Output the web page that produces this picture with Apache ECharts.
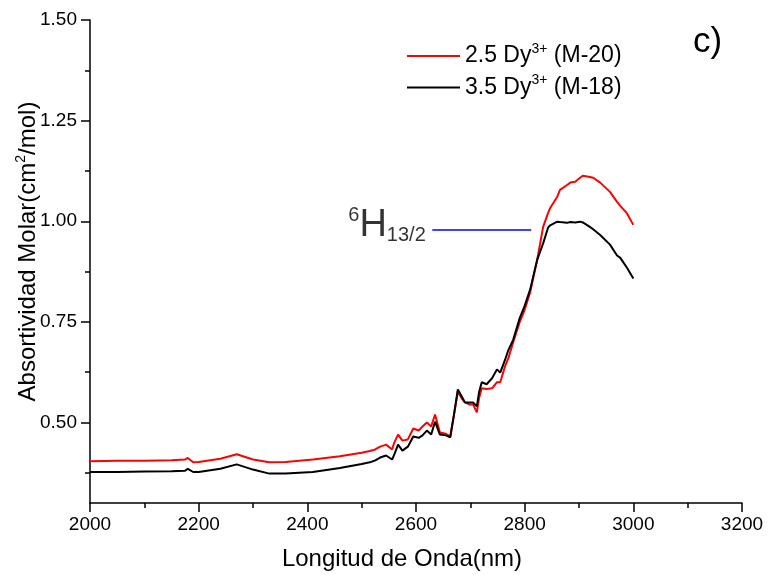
<!DOCTYPE html>
<html>
<head>
<meta charset="utf-8">
<script src="https://cdn.jsdelivr.net/npm/echarts@6/dist/echarts.min.js"></script>
<style>
  html, body { margin: 0; padding: 0; background: #fff; }
  #main { width: 768px; height: 575px; }
</style>
</head>
<body>
<div id="main"></div>
<script>
// longitud de onda (nm)
const wavelengths = [2000, 2050, 2100, 2150, 2175, 2180, 2190, 2200, 2240, 2270, 2300, 2330, 2360, 2410, 2460, 2500,
  2515, 2525, 2534, 2545, 2556, 2560, 2567, 2575, 2585, 2595, 2605, 2612, 2620, 2628, 2635, 2644, 2655, 2663,
  2670, 2677, 2684, 2690, 2698, 2705, 2712, 2716, 2721, 2730, 2740, 2749, 2755, 2764, 2770, 2779, 2791, 2800,
  2810, 2823, 2834, 2843, 2847, 2860, 2865, 2878, 2884, 2893, 2902, 2907, 2920, 2926, 2939, 2957, 2970, 2976, 2988, 3000];

// 2.5 Dy3+ (M-20)
const m20 = [0.404, 0.405, 0.405, 0.406, 0.408, 0.412, 0.401, 0.402, 0.410, 0.421, 0.408, 0.401, 0.402, 0.408, 0.416, 0.425,
  0.429, 0.433, 0.440, 0.445, 0.433, 0.450, 0.470, 0.455, 0.458, 0.485, 0.480, 0.490, 0.500, 0.490, 0.520, 0.475, 0.472, 0.465,
  0.520, 0.577, 0.560, 0.550, 0.545, 0.545, 0.525, 0.560, 0.585, 0.583, 0.585, 0.600, 0.600, 0.640, 0.660, 0.700, 0.750, 0.780,
  0.823, 0.904, 0.986, 1.020, 1.033, 1.061, 1.078, 1.090, 1.096, 1.098, 1.108, 1.113, 1.110, 1.108, 1.096, 1.073, 1.048, 1.038, 1.020, 0.991];

// 3.5 Dy3+ (M-18)
const m18 = [0.377, 0.377, 0.378, 0.379, 0.380, 0.385, 0.377, 0.377, 0.385, 0.396, 0.383, 0.373, 0.373, 0.377, 0.387, 0.397,
  0.401, 0.406, 0.413, 0.418, 0.408, 0.420, 0.445, 0.430, 0.440, 0.465, 0.462, 0.468, 0.480, 0.470, 0.502, 0.470, 0.468, 0.463,
  0.520, 0.582, 0.565, 0.550, 0.550, 0.550, 0.540, 0.575, 0.600, 0.595, 0.610, 0.632, 0.624, 0.656, 0.680, 0.706, 0.760, 0.790,
  0.830, 0.904, 0.945, 0.984, 0.990, 0.999, 0.998, 0.996, 0.998, 0.997, 0.999, 0.997, 0.986, 0.980, 0.966, 0.942, 0.915, 0.909, 0.885, 0.858];

const seriesNames = ['2.5 Dy3+ (M-20)', '3.5 Dy3+ (M-18)'];
const legendRich = {
  '2.5 Dy3+ (M-20)': '{a|2.5 Dy}{s|3+}{a| (M-20)}',
  '3.5 Dy3+ (M-18)': '{a|3.5 Dy}{s|3+}{a| (M-18)}'
};

const yMajor = [0.5, 0.75, 1.0, 1.25, 1.5];
const yMinor = [0.375, 0.625, 0.875, 1.125, 1.375];

// linea de la transicion 6H13/2
const markerX = [2630, 2812];
const markerY = 0.978;

const FONT = 'Liberation Sans, Arial, sans-serif';

const pairs = (xs, ys) => xs.map((x, i) => [x, ys[i]]);

let chart = echarts.init(document.getElementById('main'), null, { renderer: 'canvas' });

let option = {
  animation: false,
  backgroundColor: '#fff',
  textStyle: { fontFamily: FONT },
  title: {
    text: 'c)',
    left: 693,
    top: 25,
    padding: 0,
    textStyle: { fontFamily: FONT, fontSize: 35, fontWeight: 'normal', color: '#000' }
  },
  legend: {
    data: seriesNames,
    orient: 'vertical',
    left: 407,
    top: 42,
    padding: 0,
    icon: 'rect',
    itemWidth: 53,
    itemHeight: 2,
    itemGap: 6,
    formatter: name => legendRich[name],
    textStyle: {
      fontSize: 23,
      rich: {
        a: { fontFamily: FONT, fontSize: 23, color: '#000', lineHeight: 28 },
        s: { fontFamily: FONT, fontSize: 14, color: '#000', lineHeight: 14, verticalAlign: 'top' }
      }
    }
  },
  grid: { left: 90, right: 26, top: 20, bottom: 72, containLabel: false, outerBoundsMode: 'none' },
  xAxis: {
    type: 'value',
    min: 2000,
    max: 3200,
    interval: 200,
    name: 'Longitud de Onda(nm)',
    nameLocation: 'middle',
    nameGap: 44,
    nameMoveOverlap: false,
    nameTextStyle: { fontFamily: FONT, fontSize: 24, color: '#000', padding: [0, 28, 0, 0] },
    axisLine: { lineStyle: { color: '#000', width: 1.5 } },
    axisTick: { inside: false, length: 9, lineStyle: { color: '#000', width: 1.5 } },
    minorTick: { show: true, splitNumber: 2, length: 5, lineStyle: { color: '#000', width: 1.5 } },
    axisLabel: { fontFamily: FONT, fontSize: 19, color: '#000', margin: 12, formatter: v => String(v) },
    splitLine: { show: false }
  },
  yAxis: [{
    type: 'value',
    min: 0.3,
    max: 1.5,
    name: '{a|Absortividad Molar(cm}{s|2}{a|/mol)}',
    nameLocation: 'middle',
    nameGap: 48,
    nameMoveOverlap: false,
    nameTextStyle: {
      fontSize: 24,
      padding: [0, 0, 0, 20],
      rich: {
        a: { fontFamily: FONT, fontSize: 24, color: '#000', lineHeight: 28 },
        s: { fontFamily: FONT, fontSize: 14, color: '#000', lineHeight: 14, verticalAlign: 'top' }
      }
    },
    axisLine: { show: true, lineStyle: { color: '#000', width: 1.5 } },
    axisTick: { show: true, length: 9, customValues: yMajor, lineStyle: { color: '#000', width: 1.5 } },
    axisLabel: {
      fontFamily: FONT, fontSize: 19, color: '#000', margin: 13,
      customValues: yMajor,
      formatter: v => v.toFixed(2)
    },
    splitLine: { show: false }
  }, {
    type: 'value',
    position: 'left',
    min: 0.3,
    max: 1.5,
    axisLine: { show: false },
    axisTick: { show: true, length: 5, customValues: yMinor, lineStyle: { color: '#000', width: 1.5 } },
    axisLabel: { show: false },
    splitLine: { show: false }
  }],
  series: [{
    name: seriesNames[0],
    type: 'line',
    data: pairs(wavelengths, m20),
    showSymbol: false,
    lineStyle: { color: '#ff0000', width: 2 },
    itemStyle: { color: '#ff0000' }
  }, {
    name: seriesNames[1],
    type: 'line',
    data: pairs(wavelengths, m18),
    showSymbol: false,
    lineStyle: { color: '#000000', width: 2 },
    itemStyle: { color: '#000000' }
  }, {
    name: 'transicion',
    type: 'line',
    data: pairs(markerX, [markerY, markerY]),
    showSymbol: false,
    lineStyle: { color: '#0000ff', width: 1.5 },
    itemStyle: { color: '#0000ff' }
  }, {
    name: 'etiqueta',
    type: 'scatter',
    data: [[markerX[0], markerY]],
    symbolSize: 1,
    itemStyle: { color: 'rgba(0,0,0,0)' },
    label: {
      show: true,
      position: 'left',
      distance: 6,
      offset: [0, -5],
      formatter: '{s|6}{h|H}{b|13/2}',
      rich: {
        s: { fontFamily: FONT, fontSize: 20, color: '#000', verticalAlign: 'top', lineHeight: 16 },
        h: { fontFamily: FONT, fontSize: 38, color: '#000', lineHeight: 40 },
        b: { fontFamily: FONT, fontSize: 20, color: '#000', verticalAlign: 'bottom', lineHeight: 16 }
      }
    }
  }]
};

chart.setOption(option);
</script>
</body>
</html>
